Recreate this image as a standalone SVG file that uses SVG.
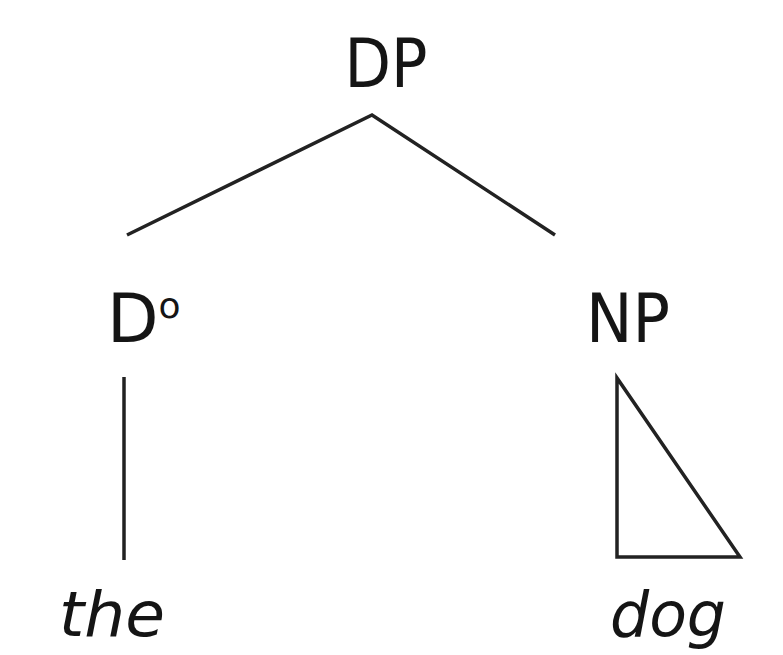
<svg xmlns="http://www.w3.org/2000/svg" width="783" height="655" viewBox="0 0 783 655">
<style>
.lbl{font-family:"DejaVu Sans","Liberation Sans",sans-serif;font-size:67px;fill:#151515}
.word{font-family:"DejaVu Sans","Liberation Sans",sans-serif;font-size:63px;font-style:italic;fill:#151515}
.ln{stroke:#222222;stroke-width:3.5;fill:none;stroke-linejoin:miter}
</style>
<rect width="783" height="655" fill="#ffffff"/>
<g id="connectors">
<polyline class="ln" points="127,235 372,115 555,235"/>
<line class="ln" x1="124" y1="377" x2="124" y2="560"/>
<polygon class="ln" points="617,378 617,557 740,557"/>
</g>
<g id="node-DP"><text class="lbl" x="386" y="87" text-anchor="middle" textLength="83" lengthAdjust="spacingAndGlyphs">DP</text></g>
<g id="node-D"><text class="lbl" x="107" y="342">D<tspan font-size="36" dy="-24">o</tspan></text></g>
<g id="node-NP"><text class="lbl" x="628" y="342" text-anchor="middle" textLength="84" lengthAdjust="spacingAndGlyphs">NP</text></g>
<g id="node-the"><text class="word" x="112" y="636" text-anchor="middle" textLength="106" lengthAdjust="spacingAndGlyphs">the</text></g>
<g id="node-dog"><text class="word" x="668" y="636" text-anchor="middle" textLength="116" lengthAdjust="spacingAndGlyphs">dog</text></g>
</svg>
